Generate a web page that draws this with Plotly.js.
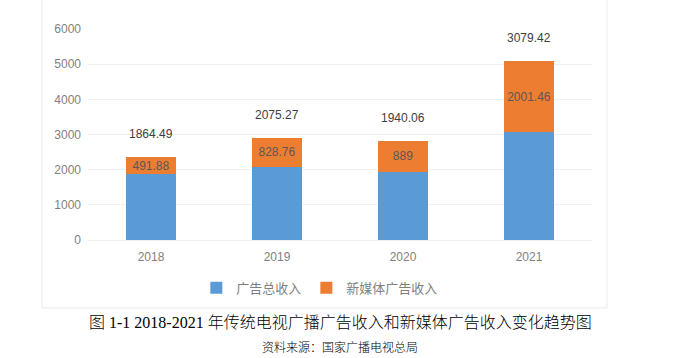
<!DOCTYPE html>
<html>
<head>
<meta charset="utf-8">
<script src="https://cdn.plot.ly/plotly-3.0.1.min.js"></script>
<style>html,body{margin:0;padding:0;background:#fff;}#chart{width:680px;height:358px;}</style>
</head>
<body>
<div id="chart"></div>
<script>
const years = ['2018', '2019', '2020', '2021'];
const totalAdRevenue = [1864.49, 2075.27, 1940.06, 3079.42];
const newMediaAdRevenue = [491.88, 828.76, 889, 2001.46];
const seriesNames = ['广告总收入', '新媒体广告收入'];
const yTicks = [0, 1000, 2000, 3000, 4000, 5000, 6000];
const caption = '图 1-1 2018-2021 年传统电视广播广告收入和新媒体广告收入变化趋势图';
const source = '资料来源：国家广播电视总局';

const sansFont = '"Liberation Sans", "Noto Sans CJK SC", sans-serif';
const serifFont = '"Liberation Serif", "Noto Sans CJK SC", serif';

const traces = [
  {
    type: 'bar', name: seriesNames[0], x: years, y: totalAdRevenue,
    marker: {color: '#5B9BD5'}, hoverinfo: 'none'
  },
  {
    type: 'bar', name: seriesNames[1], x: years, y: newMediaAdRevenue,
    marker: {color: '#ED7D31'},
    text: newMediaAdRevenue.map(v => String(v)),
    textposition: 'inside', insidetextanchor: 'middle', constraintext: 'none',
    textfont: {family: sansFont, size: 12, color: '#595959'},
    hoverinfo: 'none'
  }
];

const annotations = years.map((yr, i) => ({
  x: i, y: totalAdRevenue[i] + newMediaAdRevenue[i], xref: 'x', yref: 'y',
  text: String(totalAdRevenue[i]), showarrow: false, yshift: 23,
  font: {family: sansFont, size: 12, color: '#404040'}
}));
annotations.push({
  xref: 'paper', yref: 'paper', x: 0.5, y: -0.393, text: caption, showarrow: false,
  xanchor: 'center', yanchor: 'middle', font: {family: serifFont, size: 16, color: '#000', weight: 300}
});
annotations.push({
  xref: 'paper', yref: 'paper', x: 0.5, y: -0.512, text: source, showarrow: false,
  xanchor: 'center', yanchor: 'middle', font: {family: serifFont, size: 12, color: '#000', weight: 300}
});

const layout = {
  width: 680, height: 358,
  margin: {l: 88, r: 88, t: 29, b: 118, pad: 0},
  paper_bgcolor: '#fff', plot_bgcolor: '#fff',
  barmode: 'stack', bargap: 0.6,
  showlegend: true,
  legend: {
    orientation: 'h', x: 0.46, y: -0.227, xanchor: 'center', yanchor: 'middle',
    font: {family: sansFont, size: 13, color: '#7f7f7f'}, itemwidth: 30,
    traceorder: 'normal'
  },
  xaxis: {
    type: 'category', range: [-0.5, 3.5], showgrid: false, zeroline: false, showline: false,
    ticks: '', ticklabelstandoff: 8,
    tickfont: {family: sansFont, size: 12, color: '#7f7f7f'}
  },
  yaxis: {
    range: [0, 6000], tickvals: yTicks, ticktext: yTicks.map(String),
    showgrid: true, gridcolor: '#f0f0f0', zeroline: true, zerolinecolor: '#f0f0f0',
    showline: false, ticks: '', ticklabelstandoff: 6,
    tickfont: {family: sansFont, size: 12, color: '#7f7f7f'}
  },
  shapes: [{
    type: 'rect', xref: 'paper', yref: 'paper',
    x0: -0.0913, x1: 1.0298, y0: -0.322, y1: 1.15,
    line: {color: '#ececec', width: 1}, layer: 'below'
  }],
  annotations: annotations
};

Plotly.newPlot('chart', traces, layout, {staticPlot: true, displayModeBar: false});
</script>
</body>
</html>
